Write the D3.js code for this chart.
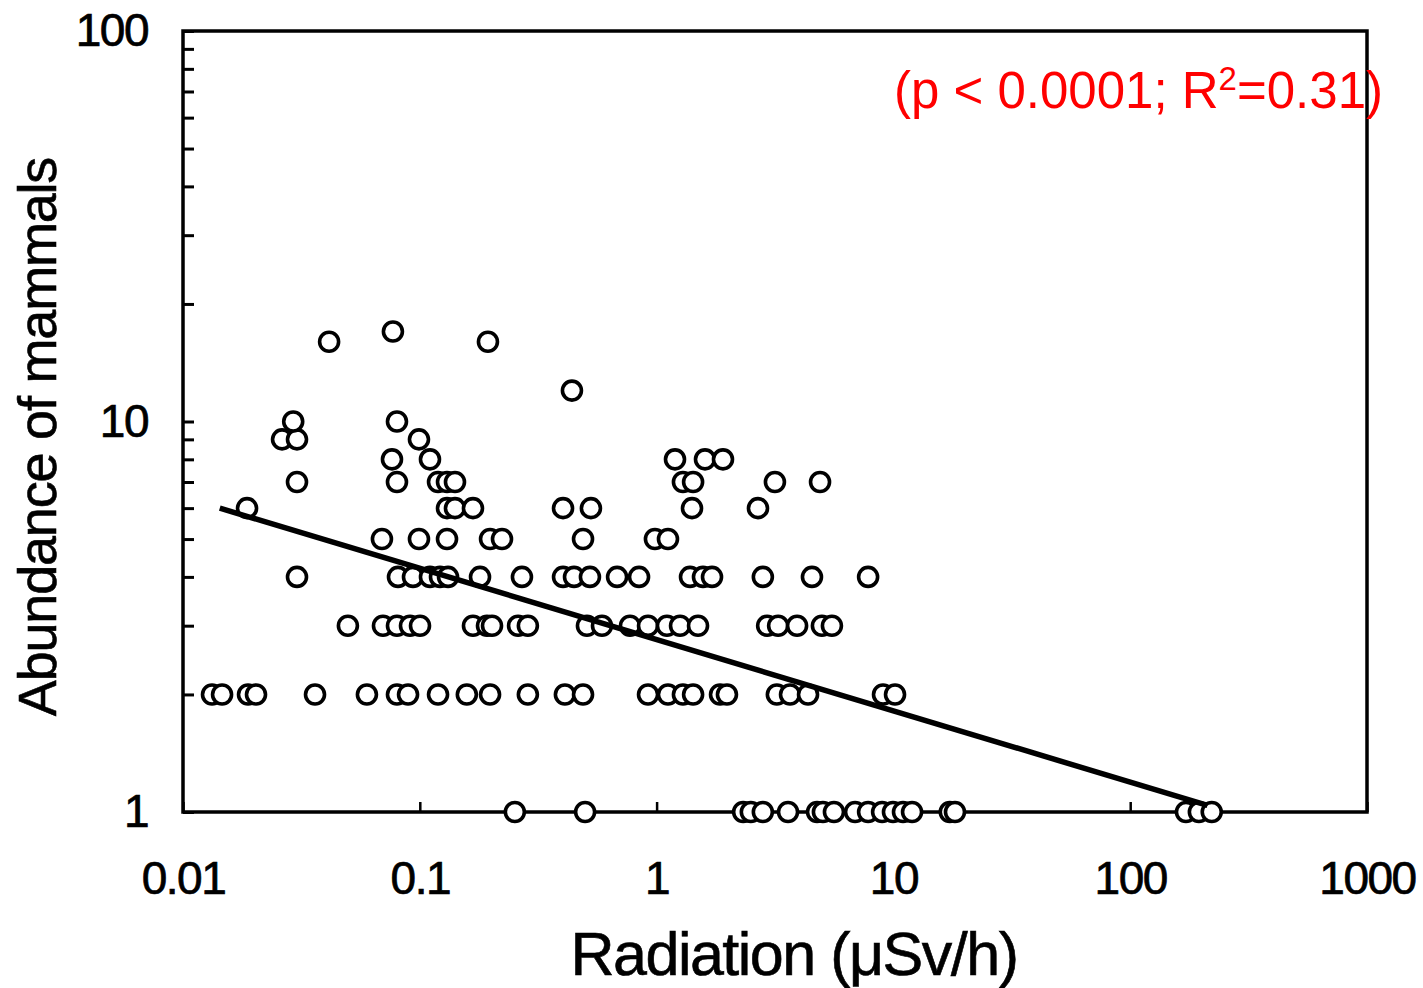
<!DOCTYPE html>
<html>
<head>
	<meta charset="utf-8">
	<script src="https://d3js.org/d3.v7.min.js"></script>
	<title>Radiation vs mammals</title>
	<style>
		body { margin: 0; background: #fff; }
		svg { display: block; }
	</style>
</head>
<body>
	<svg></svg>
	<script>
		const width = 1423;
		const height = 988;

		// radiation (uSv/h) of each site, grouped by counted abundance
		const abundance1 = [0.252, 0.499, 2.32, 2.50, 2.81, 3.59, 4.76, 5.04, 5.61, 6.89, 7.82, 8.96, 9.96, 10.98, 11.99, 17.3, 18.2, 172, 195, 221];
		const abundance2 = [0.01326, 0.01462, 0.01882, 0.02034, 0.0361, 0.0598, 0.0801, 0.0892, 0.1194, 0.158, 0.198, 0.286, 0.410, 0.489, 0.920, 1.117, 1.292, 1.426, 1.853, 1.982, 3.22, 3.66, 4.36, 9.04, 10.16];
		const abundance3 = [0.0497, 0.0699, 0.0801, 0.0909, 0.1002, 0.1677, 0.1922, 0.2018, 0.260, 0.286, 0.508, 0.588, 0.772, 0.920, 1.106, 1.256, 1.496, 2.93, 3.26, 3.92, 4.99, 5.50];
		const abundance4 = [0.0303, 0.0809, 0.0936, 0.1104, 0.1217, 0.1316, 0.1796, 0.270, 0.4026, 0.448, 0.523, 0.681, 0.843, 1.384, 1.570, 1.714, 2.81, 4.53, 7.82];
		const abundance5 = [0.0692, 0.0992, 0.1303, 0.198, 0.2224, 0.489, 0.984, 1.117];
		const abundance6 = [0.01864, 0.1303, 0.1408, 0.1677, 0.4026, 0.528, 1.411, 2.68];
		const abundance7 = [0.0303, 0.0801, 0.1194, 0.1303, 0.1408, 1.292, 1.426, 3.16, 4.90];
		const abundance8 = [0.0763, 0.1104, 1.196, 1.601, 1.907];
		const abundance9 = [0.0262, 0.0303, 0.0992];
		const abundance10 = [0.0292, 0.0801];
		const abundance12 = [0.439];
		const abundance16 = [0.0414, 0.194];
		const abundance17 = [0.077];

		// fitted regression line (log-log), end points
		const trendX = [0.0143, 212];
		const trendY = [6.0, 1.04];

		const xTicks = [0.01, 0.1, 1, 10, 100, 1000];
		const yMajor = [1, 10, 100];
		const yMinor = [2, 3, 4, 5, 6, 7, 8, 9, 20, 30, 40, 50, 60, 70, 80, 90];

		const groups = [
			[1, abundance1], [2, abundance2], [3, abundance3], [4, abundance4],
			[5, abundance5], [6, abundance6], [7, abundance7], [8, abundance8],
			[9, abundance9], [10, abundance10], [12, abundance12], [16, abundance16],
			[17, abundance17]
		];
		const points = groups.flatMap(([a, xs]) => xs.map(r => ({r, a})));

		const margin = {left: 183, right: 56, top: 31, bottom: 176};

		const x = d3.scaleLog()
			.domain([0.01, 1000])
			.range([margin.left, width - margin.right]);

		const y = d3.scaleLog()
			.domain([1, 100])
			.range([height - margin.bottom, margin.top]);

		const svg = d3.select("svg")
			.attr("width", width)
			.attr("height", height)
			.attr("viewBox", [0, 0, width, height]);

		const tickFont = "Liberation Sans, Arial, sans-serif";

		// frame
		svg.append("rect")
			.attr("x", margin.left)
			.attr("y", margin.top)
			.attr("width", x.range()[1] - margin.left)
			.attr("height", y.range()[0] - margin.top)
			.attr("fill", "none")
			.attr("stroke", "#000")
			.attr("stroke-width", 3.5);

		// x axis
		const xAxis = svg.append("g")
			.attr("transform", `translate(0,${y(1)})`)
			.call(d3.axisBottom(x)
				.tickValues(xTicks)
				.tickFormat(d => String(d))
				.tickSizeInner(-10)
				.tickSizeOuter(0)
				.tickPadding(49));
		xAxis.select(".domain").remove();
		xAxis.selectAll(".tick line").attr("stroke-width", 2.5);
		xAxis.selectAll("text")
			.attr("font-family", tickFont)
			.attr("font-size", 46)
			.attr("letter-spacing", -1.5)
			.attr("stroke", "#000")
			.attr("stroke-width", 0.7)
			.attr("fill", "#000");

		// y axis
		const yAxis = svg.append("g")
			.attr("transform", `translate(${margin.left},0)`)
			.call(d3.axisLeft(y)
				.tickValues(yMajor.concat(yMinor))
				.tickFormat(d => yMajor.includes(d) ? String(d) : "")
				.tickSizeInner(-11)
				.tickSizeOuter(0)
				.tickPadding(35));
		yAxis.select(".domain").remove();
		yAxis.selectAll(".tick line").attr("stroke-width", 3);
		yAxis.selectAll("text")
			.attr("font-family", tickFont)
			.attr("font-size", 46)
			.attr("letter-spacing", -1.5)
			.attr("stroke", "#000")
			.attr("stroke-width", 0.7)
			.attr("fill", "#000");

		// points
		svg.append("g")
			.selectAll("circle")
			.data(points)
			.join("circle")
			.attr("cx", d => x(d.r))
			.attr("cy", d => y(d.a))
			.attr("r", 9.5)
			.attr("fill", "#fff")
			.attr("stroke", "#000")
			.attr("stroke-width", 3.6);

		// regression line
		svg.append("line")
			.attr("x1", x(trendX[0]))
			.attr("y1", y(trendY[0]))
			.attr("x2", x(trendX[1]))
			.attr("y2", y(trendY[1]))
			.attr("stroke", "#000")
			.attr("stroke-width", 5.5);

		// axis titles
		svg.append("text")
			.attr("x", 794)
			.attr("y", 975)
			.attr("text-anchor", "middle")
			.attr("font-family", tickFont)
			.attr("font-size", 61)
			.attr("letter-spacing", -1.5)
			.attr("stroke", "#000")
			.attr("stroke-width", 0.6)
			.text("Radiation (\u03bcSv/h)");

		svg.append("text")
			.attr("transform", "translate(56,437) rotate(-90)")
			.attr("text-anchor", "middle")
			.attr("font-family", tickFont)
			.attr("font-size", 54)
			.attr("letter-spacing", -1.2)
			.attr("stroke", "#000")
			.attr("stroke-width", 0.6)
			.text("Abundance of mammals");

		// statistics note
		const note = svg.append("text")
			.attr("x", 1383)
			.attr("y", 108)
			.attr("text-anchor", "end")
			.attr("font-family", tickFont)
			.attr("font-size", 51)
			.attr("fill", "#ff0000");
		note.append("tspan").text("(p < 0.0001; R");
		note.append("tspan").attr("font-size", 33).attr("dy", -18).text("2");
		note.append("tspan").attr("dy", 18).text("=0.31)");
	</script>
</body>
</html>
